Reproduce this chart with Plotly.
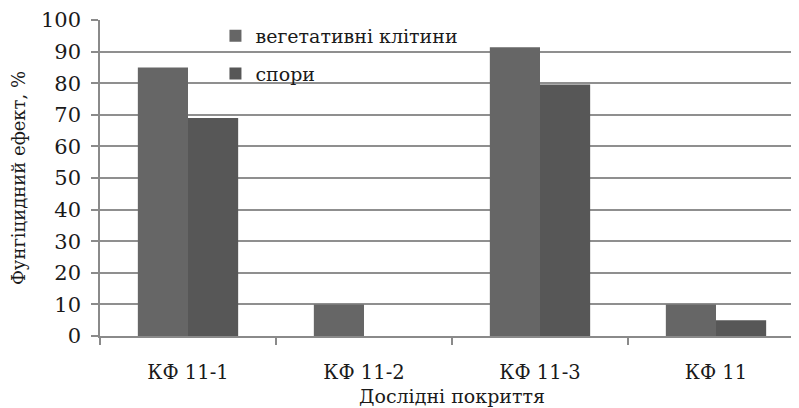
import plotly.graph_objects as go

categories = ["КФ 11-1", "КФ 11-2", "КФ 11-3", "КФ 11"]
vegetative = [85, 10, 91.4, 10]
spores = [69, 0, 79.6, 5]
series_names = ["вегетативні клітини", "спори"]
y_ticks = [0, 10, 20, 30, 40, 50, 60, 70, 80, 90, 100]

font_family = "DejaVu Serif"

fig = go.Figure()
fig.add_trace(go.Bar(x=categories, y=vegetative, name=series_names[0],
                     marker=dict(color="#666666", line=dict(width=0)),
                     legendgroup="a"))
fig.add_trace(go.Bar(x=categories, y=spores, name=series_names[1],
                     marker=dict(color="#575757", line=dict(width=0)),
                     legendgroup="b"))

fig.update_layout(
    width=799, height=408,
    margin=dict(l=92, r=3, t=12, b=80, autoexpand=False),
    paper_bgcolor="white", plot_bgcolor="white",
    font=dict(family=font_family, size=19, color="#1a1a1a"),
    barmode="group", bargap=0.43, bargroupgap=0,
    showlegend=True,
    legend=dict(x=0.164, y=1.01, xanchor="left", yanchor="top",
                bgcolor="rgba(0,0,0,0)", font=dict(family=font_family, size=19),
                tracegroupgap=10, itemwidth=30),
)
fig.update_xaxes(
    type="category", range=[-0.5, 3.5], automargin=False,
    showline=True, linecolor="#8a8a8a", linewidth=1.5,
    ticks="outside", ticklen=7, tickcolor="#8a8a8a", tickwidth=1.5,
    tickson="boundaries", showgrid=False, ticklabelstandoff=18,
    title=dict(text="Дослідні покриття", standoff=7, font=dict(family=font_family, size=19)),
    tickfont=dict(family=font_family, size=19.5),
)
fig.update_yaxes(
    range=[0, 100], tickvals=y_ticks, automargin=False,
    showline=True, linecolor="#8a8a8a", linewidth=1.5,
    ticks="outside", ticklen=7, tickcolor="#8a8a8a", tickwidth=1.5,
    showgrid=True, gridcolor="#8f8f8f", gridwidth=1.5,
    zeroline=False, ticklabelstandoff=6,
    title=dict(text="Фунгіцидний ефект, %", standoff=14, font=dict(family=font_family, size=18)),
    tickfont=dict(family=font_family, size=21),
)

fig.write_html("out.html")
